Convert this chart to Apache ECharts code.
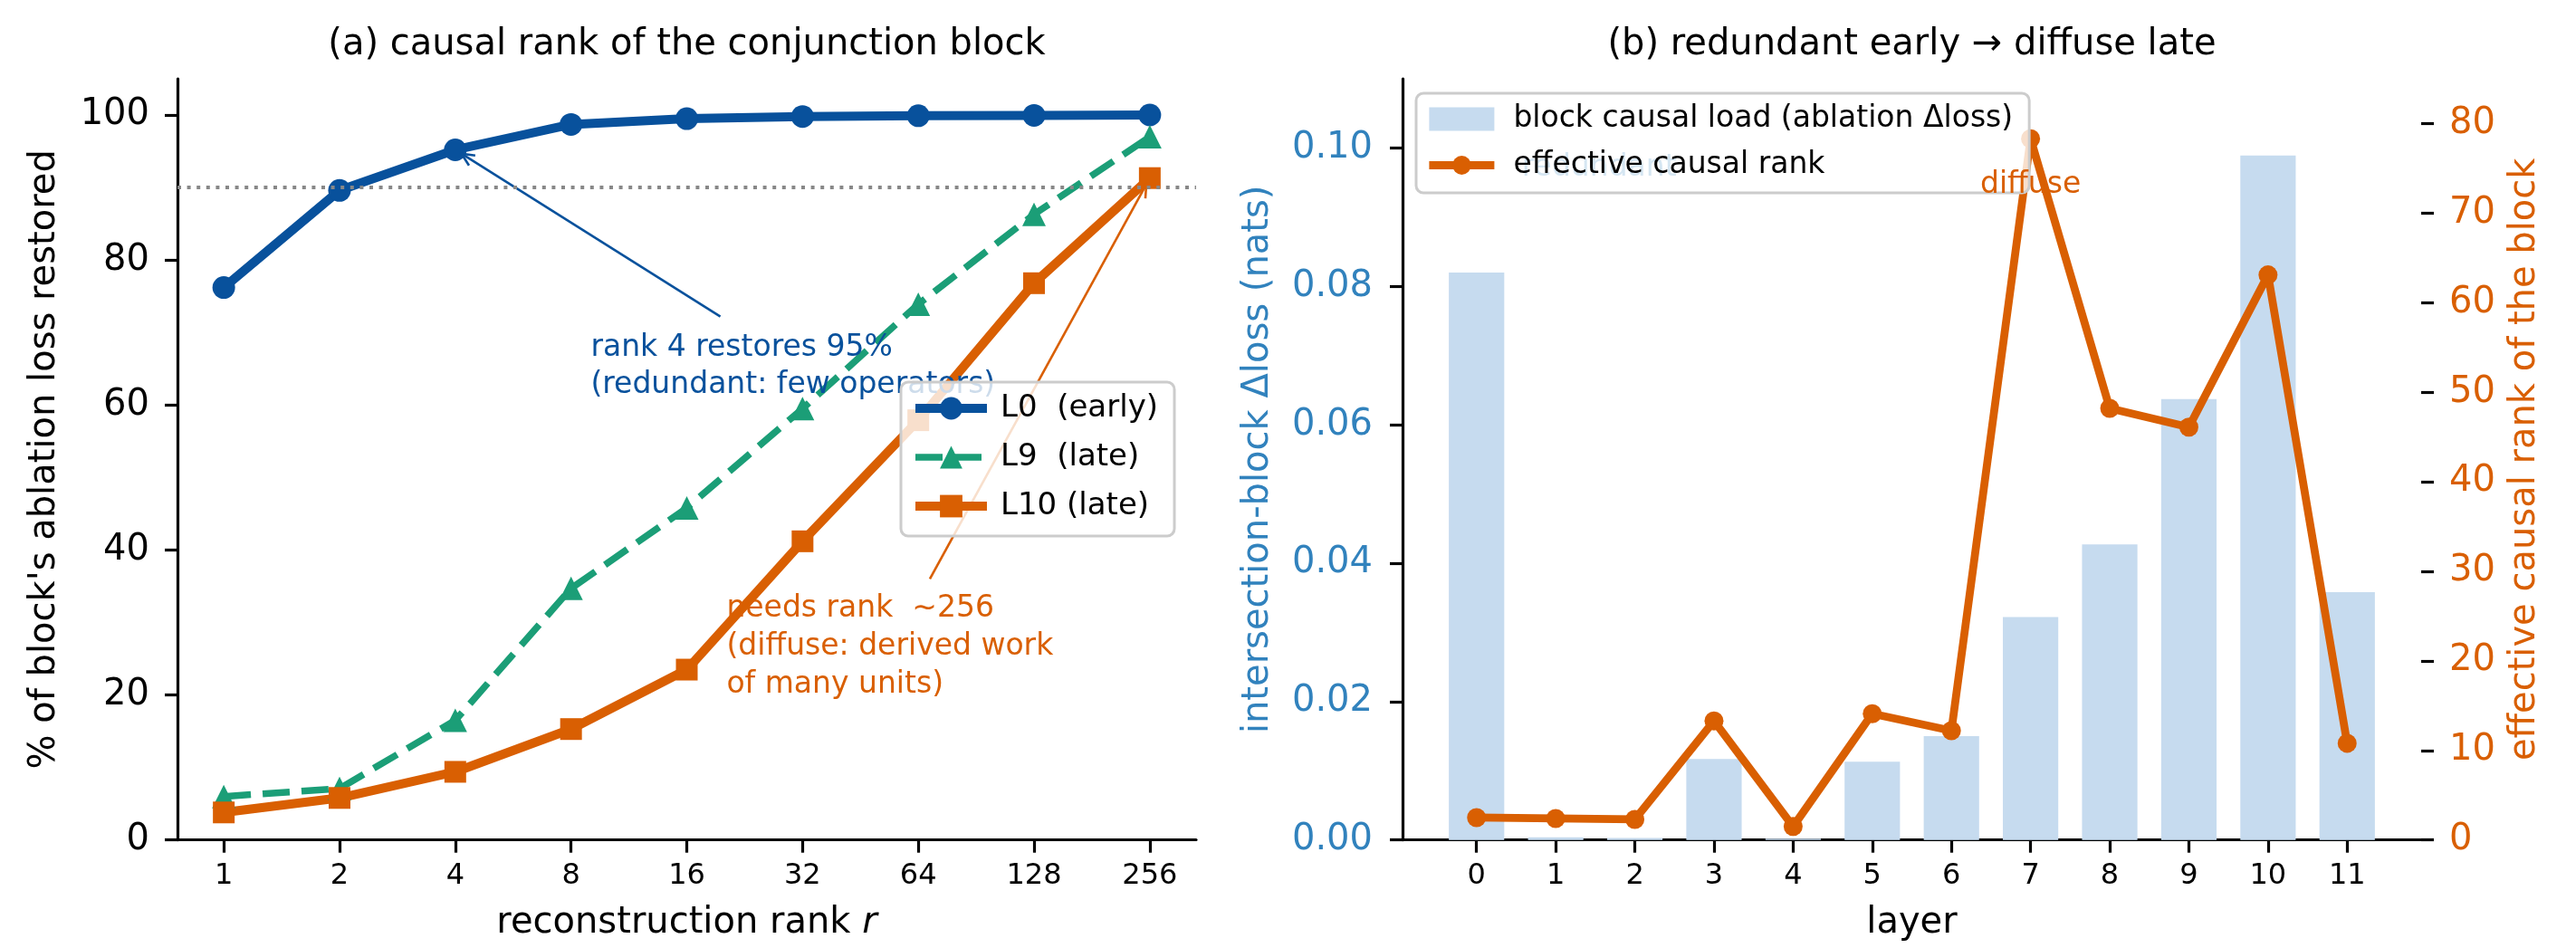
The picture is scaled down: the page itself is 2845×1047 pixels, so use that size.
<!DOCTYPE html>
<html><head><meta charset="utf-8">
<script src="https://cdn.jsdelivr.net/npm/echarts@6/dist/echarts.min.js"></script>
<style>html,body{margin:0;padding:0;background:#fff}#c{width:2845px;height:1047px}</style>
</head><body><div id="c"></div>
<script>
// ---------- data ----------
const ranks = [1, 2, 4, 8, 16, 32, 64, 128, 256];
const L0 = [76.2, 89.6, 95.2, 98.7, 99.5, 99.8, 99.9, 99.95, 100];
const L9 = [6.0, 7.1, 16.5, 34.7, 45.8, 59.5, 73.9, 86.3, 97.0];
const L10 = [3.8, 5.8, 9.4, 15.3, 23.5, 41.2, 57.9, 76.8, 91.3];
const layers = [0, 1, 2, 3, 4, 5, 6, 7, 8, 9, 10, 11];
const causalLoad = [0.0820, 0.0004, 0.0003, 0.0117, 0.0002, 0.0113, 0.0150, 0.0322, 0.0427, 0.0637, 0.0989, 0.0358];
const effRank = [2.5, 2.4, 2.3, 13.3, 1.5, 14.1, 12.2, 78.3, 48.2, 46.1, 63.1, 10.8];
const pctTicks = [0, 20, 40, 60, 80, 100];
const lossTicks = [0, 0.02, 0.04, 0.06, 0.08, 0.10];
const rankTicks = [0, 10, 20, 30, 40, 50, 60, 70, 80];
const threshold = 90;

// ---------- style ----------
const FONT = 'DejaVu Sans';
const C_L0 = '#08519c', C_L9 = '#1b9e77', C_L10 = '#d95f02';
const C_BAR = '#c6dbef', C_BLUE = '#3182bd', C_ORANGE = '#d95f02';
const W = 2845, H = 1047;
const A = {l: 196, r: 1321, t: 87, b: 927.7};
const B = {l: 1549, r: 2674, t: 87, b: 927.7};
const xAmin = -0.4, xAmax = 8.4;
const xBmin = -0.935, xBmax = 11.935;
const barPx = 0.7 * (B.r - B.l) / (xBmax - xBmin);

const chart = echarts.init(document.getElementById('c'), null, {renderer: 'canvas', width: W, height: H});

const axLine = {show: true, onZero: false, lineStyle: {color: '#000', width: 3.2}};
const tick = (vals) => ({show: true, customValues: vals, length: 14, lineStyle: {color: '#000', width: 3.2}});

const option = {
  animation: false,
  backgroundColor: '#fff',
  textStyle: {fontFamily: FONT},
  grid: [
    {left: A.l, right: W - A.r, top: A.t, bottom: H - A.b, containLabel: false, outerBoundsMode: 'none'},
    {left: B.l, right: W - B.r, top: B.t, bottom: H - B.b, containLabel: false, outerBoundsMode: 'none'}
  ],
  xAxis: [
    {type: 'value', gridIndex: 0, min: xAmin, max: xAmax,
     axisLine: axLine, axisTick: tick(ranks.map(Math.log2)), splitLine: {show: false},
     axisLabel: {customValues: ranks.map(Math.log2), formatter: v => String(Math.round(Math.pow(2, v))),
                 fontSize: 32, margin: 24, color: '#000', fontFamily: FONT},
     name: 'reconstruction rank {i|r}', nameLocation: 'middle', nameGap: 72,
     nameTextStyle: {fontSize: 40, color: '#000', fontFamily: FONT,
                     rich: {i: {fontStyle: 'italic', fontSize: 40, fontFamily: FONT, color: '#000'}}}},
    {type: 'value', gridIndex: 1, min: xBmin, max: xBmax,
     axisLine: axLine, axisTick: tick(layers), splitLine: {show: false},
     axisLabel: {customValues: layers, formatter: v => String(v), fontSize: 32, margin: 24, color: '#000', fontFamily: FONT},
     name: 'layer', nameLocation: 'middle', nameGap: 72,
     nameTextStyle: {fontSize: 40, color: '#000', fontFamily: FONT}}
  ],
  yAxis: [
    {type: 'value', gridIndex: 0, min: 0, max: 105,
     axisLine: axLine, axisTick: tick(pctTicks), splitLine: {show: false},
     axisLabel: {customValues: pctTicks, fontSize: 40, margin: 31, color: '#000', fontFamily: FONT},
     name: "% of block's ablation loss restored", nameLocation: 'middle', nameGap: 126,
     nameTextStyle: {fontSize: 40, color: '#000', fontFamily: FONT}},
    {type: 'value', gridIndex: 1, min: 0, max: 0.11, position: 'left',
     axisLine: axLine, axisTick: tick(lossTicks), splitLine: {show: false},
     axisLabel: {customValues: lossTicks, formatter: v => v.toFixed(2), fontSize: 40, margin: 33, color: C_BLUE, fontFamily: FONT},
     name: 'intersection-block \u0394loss (nats)', nameLocation: 'middle', nameGap: 139,
     nameTextStyle: {fontSize: 40, color: C_BLUE, fontFamily: FONT}},
    {type: 'value', gridIndex: 1, min: 0, max: 85, position: 'right',
     axisLine: {show: false, onZero: false}, axisTick: tick(rankTicks), splitLine: {show: false},
     axisLabel: {customValues: rankTicks, fontSize: 40, margin: 31, color: C_ORANGE, fontFamily: FONT},
     name: 'effective causal rank of the block', nameLocation: 'middle', nameGap: 95,
     nameTextStyle: {fontSize: 40, color: C_ORANGE, fontFamily: FONT}}
  ],
  legend: [
    {show: true, orient: 'vertical', left: 995, top: 422, selectedMode: false,
     data: ['L0  (early)', 'L9  (late)', 'L10 (late)'],
     backgroundColor: 'rgba(255,255,255,0.8)', borderColor: '#cccccc', borderWidth: 3, borderRadius: 8,
     padding: [12, 18, 16, 11], itemWidth: 79, itemHeight: 31, itemGap: 20,
     lineStyle: {width: 'inherit'},
     textStyle: {fontSize: 34, color: '#000', fontFamily: FONT, padding: [0, 0, 0, 10]}},
    {show: true, orient: 'vertical', left: 1564, top: 103, selectedMode: false,
     data: [{name: 'block causal load (ablation \u0394loss)', icon: 'rect'}, 'effective causal rank'],
     backgroundColor: 'rgba(255,255,255,0.8)', borderColor: '#cccccc', borderWidth: 3, borderRadius: 8,
     padding: [12, 18, 14, 10], itemWidth: 72, itemHeight: 26, itemGap: 18,
     lineStyle: {width: 'inherit'},
     textStyle: {fontSize: 33, color: '#000', fontFamily: FONT, padding: [0, 0, 0, 16]}}
  ],
  series: [
    {name: 'ref', type: 'line', xAxisIndex: 0, yAxisIndex: 0, data: [], z: 1, silent: true,
     markLine: {silent: true, symbol: 'none', label: {show: false},
                lineStyle: {color: '#888888', width: 4, type: [4, 6.6]},
                data: [{yAxis: threshold}]}},
    {name: 'L0  (early)', type: 'line', xAxisIndex: 0, yAxisIndex: 0, z: 2,
     data: ranks.map((r, i) => [Math.log2(r), L0[i]]),
     symbol: 'circle', symbolSize: 25,
     lineStyle: {color: C_L0, width: 10, join: 'round'}, itemStyle: {color: C_L0}},
    {name: 'L9  (late)', type: 'line', xAxisIndex: 0, yAxisIndex: 0, z: 2,
     data: ranks.map((r, i) => [Math.log2(r), L9[i]]),
     symbol: 'triangle', symbolSize: 26,
     lineStyle: {color: C_L9, width: 7.5, type: [30, 13]}, itemStyle: {color: C_L9}},
    {name: 'L10 (late)', type: 'line', xAxisIndex: 0, yAxisIndex: 0, z: 2,
     data: ranks.map((r, i) => [Math.log2(r), L10[i]]),
     symbol: 'rect', symbolSize: 24,
     lineStyle: {color: C_L10, width: 10, join: 'round'}, itemStyle: {color: C_L10}},
    {name: 'block causal load (ablation \u0394loss)', type: 'bar', xAxisIndex: 1, yAxisIndex: 1, z: 2,
     data: layers.map((l, i) => [l, causalLoad[i]]), barWidth: barPx,
     itemStyle: {color: C_BAR}},
    {name: 'effective causal rank', type: 'line', xAxisIndex: 1, yAxisIndex: 2, z: 2,
     data: layers.map((l, i) => [l, effRank[i]]),
     symbol: 'circle', symbolSize: 21,
     lineStyle: {color: C_ORANGE, width: 8.8, join: 'round'}, itemStyle: {color: C_ORANGE}}
  ]
};
chart.setOption(option);

// ---------- annotations (positioned through the axes) ----------
const pA = (x, y) => chart.convertToPixel({seriesIndex: 1}, [x, y]);
const pB = (x, y) => chart.convertToPixel({seriesIndex: 5}, [x, y]);

function arrow(tailPx, ptPx, color) {
  const dx = tailPx[0] - ptPx[0], dy = tailPx[1] - ptPx[1];
  const len = Math.hypot(dx, dy), ux = dx / len, uy = dy / len;
  const tip = [ptPx[0] + ux * 8, ptPx[1] + uy * 8];
  const hl = 14, hw = 6.5;
  const bx = tip[0] + ux * hl, by = tip[1] + uy * hl;
  const a = [bx - uy * hw, by + ux * hw], b = [bx + uy * hw, by - ux * hw];
  return [
    {type: 'line', z: 3, silent: true, shape: {x1: tailPx[0], y1: tailPx[1], x2: tip[0], y2: tip[1]},
     style: {stroke: color, lineWidth: 2.6}},
    {type: 'polyline', z: 3, silent: true, shape: {points: [a, tip, b]},
     style: {stroke: color, lineWidth: 2.6, fill: null}}
  ];
}
function txt(pos, text, color, size, align, vAlign, lh, z) {
  return {type: 'text', z: z == null ? 3 : z, silent: true, x: pos[0], y: pos[1],
          style: {text: text, fill: color, fontSize: size, fontFamily: FONT,
                  align: align, verticalAlign: vAlign, lineHeight: lh || size * 1.25}};
}

const graphics = [];
graphics.push(txt([(A.l + A.r) / 2, 50], '(a) causal rank of the conjunction block', '#000', 40, 'center', 'middle'));
graphics.push(txt([(B.l + B.r) / 2, 50], '(b) redundant early \u2192 diffuse late', '#000', 40, 'center', 'middle'));

// panel (a)
graphics.push(txt(pA(Math.log2(9), 65.3), 'rank 4 restores 95%\n(redundant: few operators)', C_L0, 33, 'left', 'middle', 41));
graphics.push(...arrow(pA(4.29, 72.2), pA(Math.log2(4), L0[2]), C_L0));
graphics.push(txt(pA(Math.log2(20.3), 26.6), 'needs rank  \u223c256\n(diffuse: derived work\nof many units)', C_L10, 33, 'left', 'middle', 42));
graphics.push(...arrow(pA(6.10, 36.0), pA(Math.log2(256), L10[8]), C_L10));

// panel (b): "diffuse" belongs to the twin axis (drawn above the legend), "redundant" sits below it
graphics.push(txt(pB(7, 73.1), 'diffuse', C_ORANGE, 33, 'center', 'middle', null, 6));
graphics.push(txt(pB(1.55, 75), 'redundant', C_BLUE, 33, 'center', 'middle', null, 3));

chart.setOption({graphic: graphics});
</script></body></html>
